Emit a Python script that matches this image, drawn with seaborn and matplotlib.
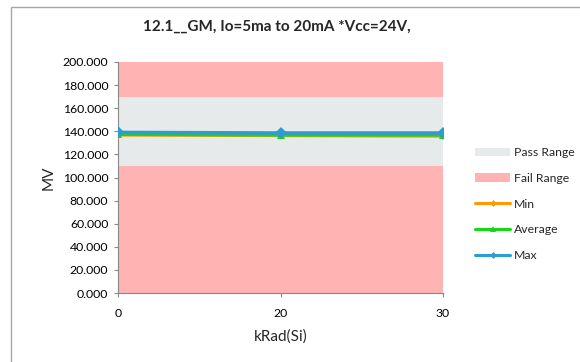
import matplotlib
matplotlib.use("Agg")
import matplotlib.pyplot as plt
import seaborn as sns
import pandas as pd
from matplotlib.patches import Patch, Rectangle
from matplotlib.lines import Line2D

# Radiation dose steps (categorical axis) and measured values
dose_labels = ["0", "20", "30"]
min_vals = [137.0, 136.5, 136.0]
avg_vals = [137.5, 137.0, 137.0]
max_vals = [139.0, 138.5, 138.5]

# Limit bands
fail_low_top = 110.0
pass_top = 170.0
axis_top = 200.0

title = "12.1__GM, Io=5ma to 20mA *Vcc=24V,"

sns.set_theme(style="white")
plt.rcParams["font.family"] = ["Lato", "DejaVu Sans"]

fig = plt.figure(figsize=(5.8, 3.62), dpi=100)
ax = fig.add_axes([118 / 580, 1 - 293 / 362, 325 / 580, 231 / 362])

# chart outline
fig.patches.append(Rectangle((11 / 580, -0.05), 1.2, 1 - 7 / 362 + 0.05,
                             transform=fig.transFigure, fill=False,
                             edgecolor="#a6a6a6", linewidth=1.0))

x = list(range(len(dose_labels)))
pink = "#ffb3b3"
grey = "#e6eaea"
ax.fill_between(x, 0, fail_low_top, color=pink, linewidth=0, zorder=0)
ax.fill_between(x, fail_low_top, pass_top, color=grey, linewidth=0, zorder=0)
ax.fill_between(x, pass_top, axis_top, color=pink, linewidth=0, zorder=0)

df = pd.DataFrame({
    "x": x * 3,
    "value": min_vals + avg_vals + max_vals,
    "series": ["Min"] * 3 + ["Average"] * 3 + ["Max"] * 3,
})
colors = {"Min": "#ff9a00", "Average": "#16d816", "Max": "#2f9bd3"}
markers = {"Min": "D", "Average": "^", "Max": "D"}
msizes = {"Min": 4, "Average": 6, "Max": 6}
for s in ["Min", "Average", "Max"]:
    sub = df[df.series == s]
    sns.lineplot(data=sub, x="x", y="value", ax=ax, color=colors[s],
                 linewidth=2.6, marker=markers[s], markersize=msizes[s],
                 markeredgewidth=0, zorder=3, legend=False)

ax.set_xlim(0, 2)
ax.set_ylim(0, 200)
ax.set_xticks(x)
ax.set_xticklabels(dose_labels)
ax.set_yticks(range(0, 201, 20))
ax.set_yticklabels([f"{v:.3f}" for v in range(0, 201, 20)])
ax.tick_params(axis="both", labelsize=8.8, colors="#000000", length=3,
               direction="out", width=0.8, color="#888888")
ax.tick_params(axis="x", pad=8)
ax.tick_params(axis="y", pad=4)
ax.xaxis.set_ticks_position("bottom")
ax.yaxis.set_ticks_position("left")
for side in ["top", "right"]:
    ax.spines[side].set_visible(False)
for side in ["left", "bottom"]:
    ax.spines[side].set_color("#888888")
    ax.spines[side].set_linewidth(0.8)
ax.set_xlabel("kRad(Si)", fontsize=11, labelpad=7)
ax.set_ylabel("MV", fontsize=11, labelpad=5)
ax.set_facecolor("white")

fig.text(0.477, 1 - 27 / 362, title, ha="center", va="center",
         fontsize=11, fontweight="bold")

handles = [
    Patch(facecolor=grey, edgecolor="none", label="Pass Range"),
    Patch(facecolor=pink, edgecolor="none", label="Fail Range"),
    Line2D([], [], color=colors["Min"], lw=2.2, marker="D", ms=3.5, mew=0, label="Min"),
    Line2D([], [], color=colors["Average"], lw=2.2, marker="^", ms=5, mew=0, label="Average"),
    Line2D([], [], color=colors["Max"], lw=2.2, marker="D", ms=3.5, mew=0, label="Max"),
]
fig.legend(handles=handles, loc="center left", bbox_to_anchor=(475 / 580, 1 - 204 / 362),
           frameon=False, fontsize=8.8, handlelength=2.9, handletextpad=0.25,
           labelspacing=1.2, borderpad=0, borderaxespad=0)

fig.savefig("out.png", dpi=100)
